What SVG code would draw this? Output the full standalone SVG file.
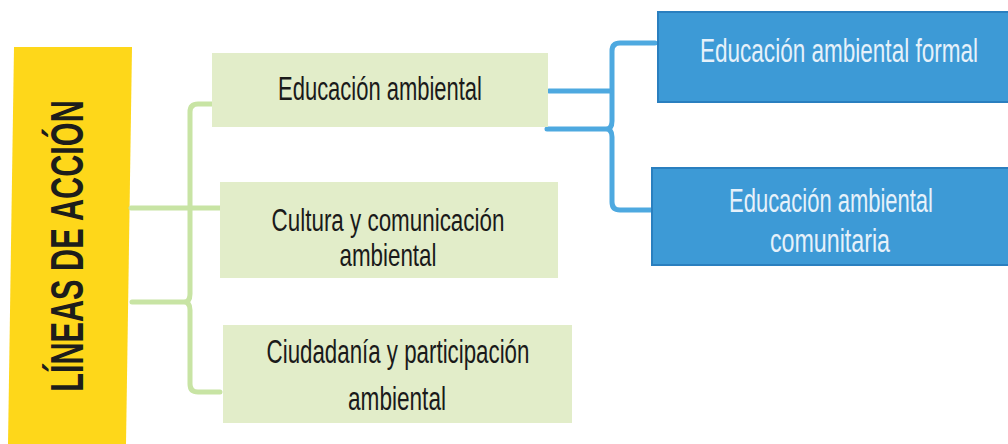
<svg xmlns="http://www.w3.org/2000/svg" width="1008" height="444" viewBox="0 0 1008 444">
<style>
.gbox{fill:#e2edc9}
.bbox{fill:#3d9ad6;stroke:#2a7fbf;stroke-width:2}
.gline{fill:none;stroke:#c8e4a4;stroke-width:5;stroke-linecap:round;stroke-linejoin:round}
.bline{fill:none;stroke:#4ea9e0;stroke-width:5;stroke-linecap:round;stroke-linejoin:round}
.dt{font-family:"Liberation Sans",Arial,sans-serif;font-size:33px;fill:#1a1a1a;text-anchor:middle}
.wt{font-family:"Liberation Sans",Arial,sans-serif;font-size:33px;fill:#e6f1fa;text-anchor:middle}
.sm{font-size:31px}
</style>
<rect width="1008" height="444" fill="#ffffff"/>
<g id="lineas">
<polygon points="14,47 132,47 126,444 8,444" fill="#fed71a"/>
<text transform="translate(83,246) rotate(-90) scale(0.652,1)" text-anchor="middle" font-family="Liberation Sans,Arial,sans-serif" font-weight="bold" font-size="47" fill="#1d1d1b">LÍNEAS DE ACCIÓN</text>
</g>
<g id="connectors">
<path class="gline" d="M225,104 H198 Q190,104 190,112 V294 Q190,302 184,302 H132 M184,302 Q190,302 190,310 V384 Q190,392 198,392 H220"/>
<path class="gline" d="M131,208 H228"/>
<path class="bline" d="M655,43 H620 Q612,43 612,51 V121 Q612,129 606,129 H547 M606,129 Q612,129 612,137 V202 Q612,210 620,210 H652"/>
<path class="bline" d="M549,91 H610"/>
</g>
<g id="educacion">
<rect class="gbox" x="212" y="53" width="336" height="74"/>
<text class="dt" transform="translate(380,100) scale(0.666,1)">Educación ambiental</text>
</g>
<g id="cultura">
<rect class="gbox" x="220" y="182" width="338" height="96"/>
<text class="dt sm" transform="translate(388,231) scale(0.723,1)">Cultura y comunicación</text>
<text class="dt sm" transform="translate(388,266) scale(0.722,1)">ambiental</text>
</g>
<g id="ciudadania">
<rect class="gbox" x="223" y="325" width="349" height="98"/>
<text class="dt" transform="translate(398,363) scale(0.676,1)">Ciudadanía y participación</text>
<text class="dt" transform="translate(397,410) scale(0.685,1)">ambiental</text>
</g>
<g id="formal">
<rect class="bbox" x="658" y="12" width="360" height="90"/>
<text class="wt" transform="translate(839,62) scale(0.683,1)">Educación ambiental formal</text>
</g>
<g id="comunitaria">
<rect class="bbox" x="652" y="168" width="366" height="97"/>
<text class="wt" transform="translate(831,212) scale(0.666,1)">Educación ambiental</text>
<text class="wt" transform="translate(830,252) scale(0.704,1)">comunitaria</text>
</g>
</svg>
